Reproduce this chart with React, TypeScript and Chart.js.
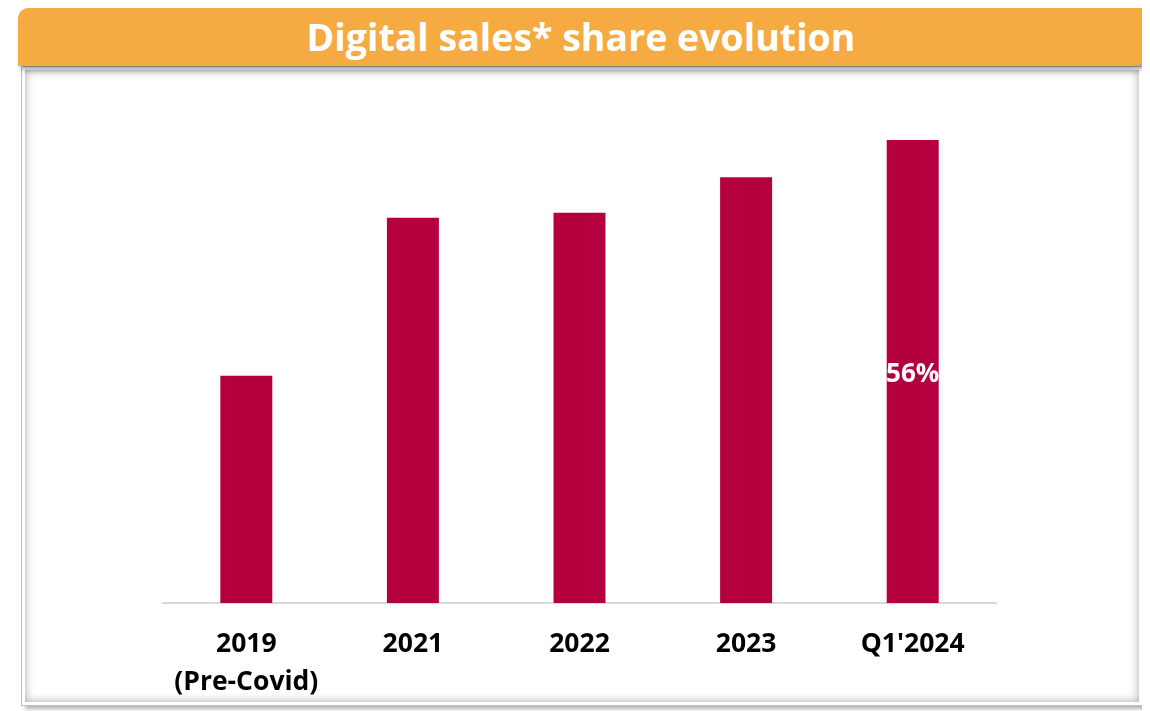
import React, { useEffect, useRef } from "react";
import { Chart, registerables } from "chart.js";

Chart.register(...registerables);

const TITLE = "Digital sales* share evolution";
const categories: (string | string[])[] = [["2019", "(Pre-Covid)"], "2021", "2022", "2023", "Q1'2024"];
const shareValues = [27.5, 46.6, 47.2, 51.5, 56];
const valueLabels = ["", "", "", "", "56%"];

const BAR_COLOR = "#B5003F";
const ORANGE = "#F5AB42";
const FONT = "'Open Sans', 'Noto Sans', sans-serif";

const labelPlugin = {
  id: "valueLabels",
  afterDatasetsDraw(chart: any) {
    const ctx = chart.ctx;
    const meta = chart.getDatasetMeta(0);
    ctx.save();
    ctx.fillStyle = "#FFFFFF";
    ctx.font = `bold 26px ${FONT}`;
    ctx.textAlign = "center";
    ctx.textBaseline = "middle";
    meta.data.forEach((bar: any, i: number) => {
      const t = valueLabels[i];
      if (!t) return;
      ctx.fillText(t, bar.x, (bar.y + bar.base) / 2 + 3);
    });
    ctx.restore();
  },
};

export default function App() {
  const canvasRef = useRef<HTMLCanvasElement | null>(null);

  useEffect(() => {
    if (!canvasRef.current) return;
    const chart = new Chart(canvasRef.current, {
      type: "bar",
      data: {
        labels: categories,
        datasets: [
          {
            data: shareValues,
            backgroundColor: BAR_COLOR,
            borderWidth: 0,
            barPercentage: 0.312,
            categoryPercentage: 1,
          },
        ],
      },
      options: {
        animation: false,
        responsive: false,
        maintainAspectRatio: false,
        layout: { padding: { left: 163, right: 154, top: 107, bottom: 8 } },
        plugins: {
          legend: { display: false },
          title: { display: false },
          tooltip: { enabled: false },
        },
        scales: {
          x: {
            grid: { display: false, drawTicks: false },
            border: { display: true, color: "#D9D9D9", width: 2 },
            ticks: {
              color: "#000000",
              padding: 23,
              font: { family: FONT, size: 26.5, weight: "bold", lineHeight: 1.42 },
              maxRotation: 0,
              autoSkip: false,
            },
            afterFit(scale: any) {
              scale.height = 100;
            },
          },
          y: {
            display: false,
            min: 0,
            max: 60,
          },
        },
      },
      plugins: [labelPlugin],
    });
    return () => chart.destroy();
  }, []);

  return (
    <div style={{ position: "relative", height: 703 }}>
      <div
        style={{
          position: "absolute",
          left: 13,
          top: 58,
          width: 1122,
          height: 640,
          border: "1px solid #BDBDBD",
          boxShadow: "4px 3px 4px rgba(0,0,0,0.3)",
          background: "#FFFFFF",
          boxSizing: "border-box",
        }}
      >
        <div
          style={{
            position: "absolute",
            left: 3,
            top: 3,
            right: 3,
            bottom: 3,
            boxShadow: "inset 0 0 10px rgba(0,0,0,0.35)",
          }}
        />
      </div>
      <div
        style={{
          position: "absolute",
          left: 10,
          top: 0,
          width: 1126,
          height: 58,
          background: ORANGE,
          borderRadius: "10px 0 10px 0",
          boxShadow: "3px 4px 5px rgba(0,0,0,0.35)",
          display: "flex",
          alignItems: "center",
          justifyContent: "center",
          color: "#FFFFFF",
          fontFamily: FONT,
          fontWeight: "bold",
          fontSize: 37.5,
          lineHeight: 1,
          zIndex: 2,
        }}
      >
        {TITLE}
      </div>
      <canvas
        ref={canvasRef}
        width={1150}
        height={711}
        style={{
          position: "absolute",
          left: -8,
          top: -8,
          width: 1150,
          height: 711,
          zIndex: 3,
          pointerEvents: "none",
        }}
      />
    </div>
  );
}
